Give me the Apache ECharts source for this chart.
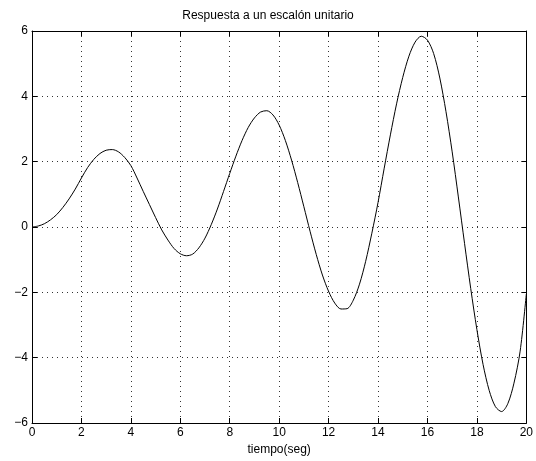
<!DOCTYPE html>
<html>
<head>
<meta charset="utf-8">
<script src="https://cdn.jsdelivr.net/npm/echarts@6/dist/echarts.min.js"></script>
<style>html,body{margin:0;padding:0;background:#fff;}#c{width:536px;height:461px;}</style>
</head>
<body>
<div id="c"></div>
<script>
var titleText = 'Respuesta a un escalón unitario';
var xLabel = 'tiempo(seg)';
var tValues = [0, 0.25, 0.5, 0.75, 1.0, 1.25, 1.5, 1.75, 2.0, 2.25, 2.5, 2.75, 3.0, 3.25, 3.5, 3.75,
  4.0, 4.25, 4.5, 4.75, 5.0, 5.25, 5.5, 5.75, 6.0, 6.25, 6.5, 6.75, 7.0, 7.25, 7.5, 7.75,
  8.0, 8.25, 8.5, 8.75, 9.0, 9.25, 9.5, 9.75, 10.0, 10.25, 10.5, 10.75, 11.0, 11.25, 11.5, 11.75,
  12.0, 12.25, 12.5, 12.75, 13.0, 13.25, 13.5, 13.75, 14.0, 14.25, 14.5, 14.75, 15.0, 15.25, 15.5, 15.75,
  16.0, 16.25, 16.5, 16.75, 17.0, 17.25, 17.5, 17.75, 18.0, 18.25, 18.5, 18.75, 19.0, 19.25, 19.5, 19.75, 20.0];
var yValues = [0, 0.03, 0.1, 0.22, 0.38, 0.6, 0.86, 1.16, 1.5, 1.82, 2.07, 2.25, 2.35, 2.37, 2.3, 2.13,
  1.88, 1.5, 1.09, 0.69, 0.29, -0.09, -0.40, -0.66, -0.82, -0.88, -0.83, -0.64, -0.34, 0.07, 0.55, 1.09,
  1.64, 2.17, 2.65, 3.05, 3.34, 3.52, 3.56, 3.43, 3.12, 2.65, 2.05, 1.36, 0.62, -0.13, -0.84, -1.47,
  -1.97, -2.33, -2.51, -2.50, -2.24, -1.75, -1.05, -0.19, 0.75, 1.80, 2.82, 3.77, 4.58, 5.23, 5.66, 5.84,
  5.72, 5.31, 4.56, 3.53, 2.30, 0.92, -0.50, -1.88, -3.14, -4.21, -5.01, -5.50, -5.65, -5.41, -4.78, -3.8, -2.05];
var xTicks = [0, 2, 4, 6, 8, 10, 12, 14, 16, 18, 20];
var yTicks = [-6, -4, -2, 0, 2, 4, 6];

var data = tValues.map(function (t, i) { return [t, yValues[i]]; });
var fmt = function (v) { return String(v).replace('-', '\u2212'); };
var font = 'Liberation Sans, Arial, Helvetica, sans-serif';
var tickStyle = { inside: true, length: 5, lineStyle: { color: '#000', width: 1 } };
var lineStyle = { color: '#000', width: 1 };
var gridLine = { show: true, lineStyle: { color: '#333', type: [1, 4], width: 1 } };
var chart = echarts.init(document.getElementById('c'), null, { renderer: 'canvas' });
chart.setOption({
  animation: false,
  backgroundColor: '#fff',
  title: { text: titleText, left: 'center', top: 5, textStyle: { fontFamily: font, fontSize: 12, fontWeight: 'normal', color: '#000' } },
  grid: { left: 32, right: 9, top: 31, bottom: 38, containLabel: false },
  xAxis: [{
    type: 'value', min: xTicks[0], max: xTicks[xTicks.length - 1], interval: 2, position: 'bottom',
    name: xLabel, nameLocation: 'middle', nameGap: 20,
    nameTextStyle: { fontFamily: font, fontSize: 12, color: '#000' },
    axisLine: { onZero: false, lineStyle: lineStyle }, axisTick: tickStyle,
    axisLabel: { fontFamily: font, fontSize: 12, color: '#000', margin: 4, formatter: fmt, showMinLabel: true, showMaxLabel: true },
    splitLine: gridLine
  }, {
    type: 'value', min: xTicks[0], max: xTicks[xTicks.length - 1], interval: 2, position: 'top',
    axisLine: { onZero: false, lineStyle: lineStyle }, axisTick: tickStyle, axisLabel: { show: false }, splitLine: { show: false }
  }],
  yAxis: [{
    type: 'value', min: yTicks[0], max: yTicks[yTicks.length - 1], interval: 2, position: 'left',
    axisLine: { onZero: false, lineStyle: lineStyle }, axisTick: tickStyle,
    axisLabel: { fontFamily: font, fontSize: 12, color: '#000', margin: 4, formatter: fmt, showMinLabel: true, showMaxLabel: true },
    splitLine: gridLine
  }, {
    type: 'value', min: yTicks[0], max: yTicks[yTicks.length - 1], interval: 2, position: 'right',
    axisLine: { onZero: false, lineStyle: lineStyle }, axisTick: tickStyle, axisLabel: { show: false }, splitLine: { show: false }
  }],
  series: [{
    type: 'line', data: data, xAxisIndex: 0, yAxisIndex: 0,
    smooth: 0.3, showSymbol: false, symbol: 'none',
    lineStyle: { color: '#000', width: 1 }
  }]
});
</script>
</body>
</html>
